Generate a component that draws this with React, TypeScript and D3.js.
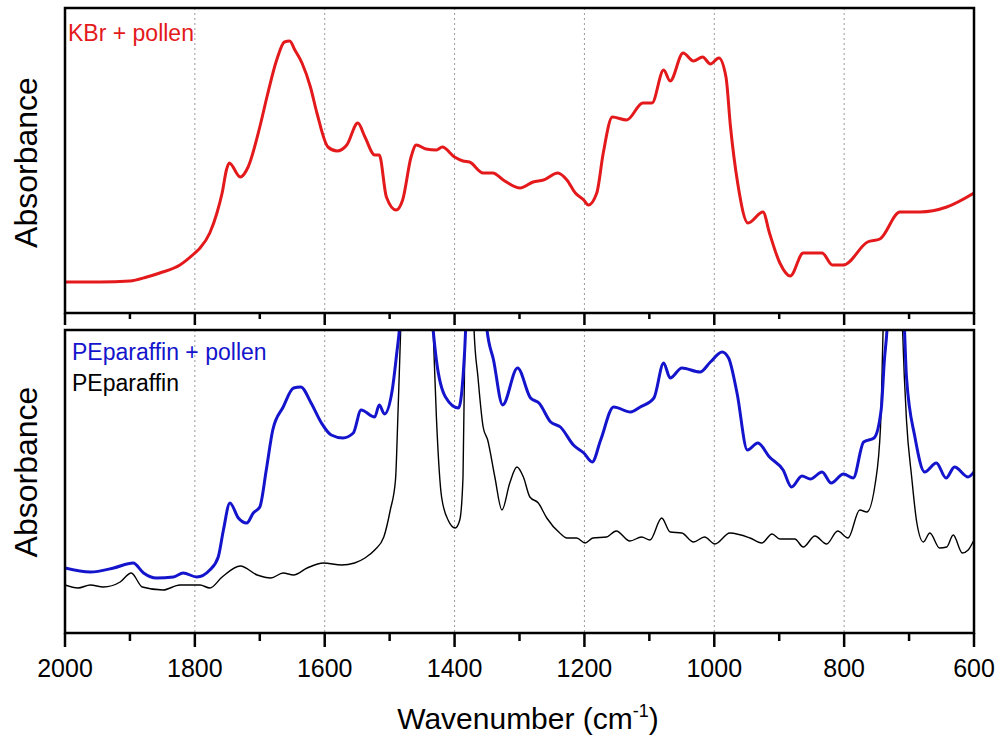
import React from "react";
import * as d3 from "d3";

// ---- data (wavenumber cm-1, absorbance a.u.) ----
const kbrPollen: [number, number][] = [
  [2000, 0.31], [1946, 0.31], [1900, 0.32], [1874, 0.36], [1854, 0.40], [1823, 0.48],
  [1800, 0.60], [1792, 0.65], [1777, 0.80], [1766, 1.00], [1758, 1.20], [1751, 1.44],
  [1747, 1.50], [1730, 1.36], [1718, 1.46], [1700, 1.86], [1689, 2.16],
  [1674, 2.53], [1662, 2.71], [1654, 2.72], [1646, 2.63], [1635, 2.50], [1622, 2.26],
  [1612, 2.00], [1595, 1.66], [1581, 1.62], [1566, 1.68], [1549, 1.90], [1538, 1.76],
  [1523, 1.58], [1516, 1.58], [1505, 1.16], [1490, 1.03], [1480, 1.13], [1467, 1.56],
  [1459, 1.68], [1444, 1.64], [1428, 1.63], [1419, 1.66], [1400, 1.56], [1387, 1.52],
  [1377, 1.51], [1356, 1.40], [1341, 1.40], [1325, 1.33], [1299, 1.25], [1279, 1.31],
  [1263, 1.33], [1241, 1.40], [1227, 1.33], [1214, 1.20], [1201, 1.13], [1194, 1.08],
  [1181, 1.20], [1171, 1.60], [1157, 1.96], [1135, 1.93], [1110, 2.10], [1096, 2.10],
  [1078, 2.43], [1068, 2.32], [1048, 2.60], [1032, 2.52], [1018, 2.56], [1006, 2.49],
  [993, 2.55], [982, 2.36], [975, 1.86], [964, 1.30], [948, 0.90], [925, 1.01],
  [915, 0.80], [899, 0.50], [883, 0.37], [863, 0.60], [834, 0.60], [818, 0.48],
  [801, 0.48], [764, 0.71], [745, 0.74], [714, 1.01], [683, 1.01], [642, 1.06], [600, 1.20],
];

const peParaffinPollen: [number, number][] = [
  [2000, 0.65], [1961, 0.61], [1925, 0.65], [1895, 0.70], [1879, 0.60], [1859, 0.55],
  [1833, 0.56], [1818, 0.60], [1797, 0.56], [1777, 0.63], [1764, 0.76], [1756, 1.03],
  [1746, 1.30], [1733, 1.15], [1720, 1.10], [1710, 1.20], [1700, 1.26], [1690, 1.63],
  [1680, 2.03], [1664, 2.26], [1648, 2.45], [1637, 2.46], [1621, 2.30], [1605, 2.10],
  [1590, 1.98], [1572, 1.95], [1556, 2.00], [1544, 2.23], [1523, 2.16], [1516, 2.28],
  [1508, 2.19], [1496, 2.43], [1489, 2.80], [1485, 3.03], [1462, 6.0], [1433, 3.03],
  [1428, 2.73], [1414, 2.36], [1394, 2.25], [1387, 2.56], [1383, 3.03], [1374, 6.0],
  [1350, 3.03], [1340, 2.73], [1326, 2.28], [1303, 2.65], [1283, 2.35], [1270, 2.30],
  [1252, 2.11], [1237, 2.06], [1217, 1.88], [1201, 1.80], [1188, 1.71], [1175, 1.93],
  [1155, 2.26], [1129, 2.21], [1114, 2.26], [1093, 2.35], [1078, 2.70], [1068, 2.55],
  [1050, 2.65], [1022, 2.61], [1006, 2.71], [988, 2.81], [978, 2.75], [965, 2.40],
  [949, 1.83], [933, 1.90], [915, 1.76], [894, 1.63], [881, 1.46], [865, 1.57],
  [852, 1.54], [834, 1.61], [820, 1.50], [801, 1.59], [786, 1.55], [770, 1.91],
  [754, 1.95], [743, 2.23], [738, 2.73], [734, 3.03], [720, 6.0], [707, 3.03],
  [704, 2.56], [691, 1.96], [676, 1.61], [658, 1.70], [643, 1.55], [630, 1.66],
  [609, 1.56], [600, 1.61],
];

const peParaffin: [number, number][] = [
  [2000, 0.48], [1980, 0.45], [1961, 0.48], [1941, 0.46], [1915, 0.51], [1898, 0.60],
  [1881, 0.46], [1849, 0.43], [1823, 0.48], [1792, 0.48], [1777, 0.45], [1758, 0.56],
  [1730, 0.67], [1704, 0.58], [1683, 0.55], [1664, 0.60], [1648, 0.58], [1627, 0.65],
  [1602, 0.70], [1574, 0.68], [1554, 0.70], [1538, 0.75], [1523, 0.83], [1509, 0.96],
  [1499, 1.23], [1491, 1.53], [1487, 2.23], [1483, 3.03], [1462, 7.0], [1433, 3.03],
  [1428, 2.16], [1420, 1.36], [1410, 1.13], [1399, 1.05], [1392, 1.13], [1387, 1.56],
  [1384, 3.03], [1377, 7.0], [1370, 3.03], [1364, 2.56], [1356, 2.06], [1349, 1.93],
  [1338, 1.56], [1327, 1.23], [1315, 1.50], [1304, 1.66], [1294, 1.56], [1284, 1.36],
  [1271, 1.30], [1258, 1.15], [1238, 1.00], [1227, 0.95], [1212, 0.95], [1199, 0.90],
  [1187, 0.95], [1166, 0.96], [1151, 1.02], [1130, 0.92], [1112, 0.96], [1099, 0.93],
  [1081, 1.15], [1068, 1.01], [1050, 1.00], [1032, 0.91], [1015, 0.96], [999, 0.89],
  [976, 1.00], [945, 0.95], [927, 0.90], [911, 0.99], [899, 0.94], [876, 0.94],
  [863, 0.86], [845, 0.97], [827, 0.89], [810, 1.02], [794, 0.95], [776, 1.23],
  [765, 1.21], [752, 1.50], [744, 2.06], [740, 3.03], [722, 7.0], [710, 3.03],
  [704, 2.13], [696, 1.56], [688, 1.10], [678, 0.91], [668, 1.00], [653, 0.85],
  [642, 0.86], [632, 0.98], [618, 0.80], [609, 0.83], [600, 0.93],
];

const majorTicks = [2000, 1800, 1600, 1400, 1200, 1000, 800, 600];
const minorTicks = [1900, 1700, 1500, 1300, 1100, 900, 700];
const gridLines = [1800, 1600, 1400, 1200, 1000, 800];
const xDomain: [number, number] = [2000, 600];
const topYDomain: [number, number] = [0, 3.05];
const bottomYDomain: [number, number] = [0, 3.03];

const FONT = "'Liberation Sans', Arial, Helvetica, sans-serif";

export default function App() {
  const left = 65;
  const right = 974;
  const top1 = 8, bot1 = 313;
  const top2 = 330, bot2 = 633;

  const x = d3.scaleLinear().domain(xDomain).range([left, right]);
  const y1 = d3.scaleLinear().domain(topYDomain).range([bot1, top1]);
  const y2 = d3.scaleLinear().domain(bottomYDomain).range([bot2, top2]);

  const line1 = d3.line<[number, number]>().x((d) => x(d[0])).y((d) => y1(d[1])).curve(d3.curveMonotoneX);
  const line2 = d3.line<[number, number]>().x((d) => x(d[0])).y((d) => y2(d[1])).curve(d3.curveMonotoneX);

  const grid = (t: number, b: number, key: string) =>
    gridLines.map((g) => (
      <line key={key + g} x1={x(g)} x2={x(g)} y1={t} y2={b} stroke="#9a9a9a" strokeWidth={1} strokeDasharray="2,3" />
    ));

  const ticks = (yb: number, maj: number, min: number, key: string) => (
    <g key={key}>
      {majorTicks.map((t) => (
        <line key={key + "M" + t} x1={x(t)} x2={x(t)} y1={yb} y2={yb + maj} stroke="#000" strokeWidth={2.5} />
      ))}
      {minorTicks.map((t) => (
        <line key={key + "m" + t} x1={x(t)} x2={x(t)} y1={yb} y2={yb + min} stroke="#000" strokeWidth={2.5} />
      ))}
    </g>
  );

  return (
    <svg width={1000} height={740} style={{ position: "absolute", left: 0, top: 0, background: "#fff" }} fontFamily={FONT}>
      <defs>
        <clipPath id="clipTop">
          <rect x={left} y={top1} width={right - left} height={bot1 - top1} />
        </clipPath>
        <clipPath id="clipBot">
          <rect x={left} y={top2} width={right - left} height={bot2 - top2} />
        </clipPath>
      </defs>
      <rect x={0} y={0} width={1000} height={740} fill="#fff" />

      {/* top panel */}
      {grid(top1, bot1, "g1")}
      <path d={line1(kbrPollen) || ""} fill="none" stroke="#e3191b" strokeWidth={3} clipPath="url(#clipTop)" strokeLinejoin="round" />
      <rect x={left} y={top1} width={right - left} height={bot1 - top1} fill="none" stroke="#000" strokeWidth={2.5} />
      {ticks(bot1, 12, 6, "t1")}
      <text x={68} y={41} fontSize={23} fill="#e3191b">KBr + pollen</text>
      <text transform={`translate(37,${(top1 + bot1) / 2 + 2}) rotate(-90)`} textAnchor="middle" fontSize={32} fill="#000">Absorbance</text>

      {/* bottom panel */}
      {grid(top2, bot2, "g2")}
      <path d={line2(peParaffin) || ""} fill="none" stroke="#000" strokeWidth={1.4} clipPath="url(#clipBot)" strokeLinejoin="round" />
      <path d={line2(peParaffinPollen) || ""} fill="none" stroke="#1414cc" strokeWidth={3} clipPath="url(#clipBot)" strokeLinejoin="round" />
      <rect x={left} y={top2} width={right - left} height={bot2 - top2} fill="none" stroke="#000" strokeWidth={2.5} />
      {ticks(bot2, 14, 8, "t2")}
      <text x={72} y={360} fontSize={23} fill="#1414cc">PEparaffin + pollen</text>
      <text x={72} y={391} fontSize={23} fill="#000">PEparaffin</text>
      <text transform={`translate(37,472) rotate(-90)`} textAnchor="middle" fontSize={32} fill="#000">Absorbance</text>

      {/* x tick labels */}
      {majorTicks.map((t) => (
        <text key={"l" + t} x={x(t)} y={677} textAnchor="middle" fontSize={25} fill="#000">{t}</text>
      ))}
      <text x={528} y={729} textAnchor="middle" fontSize={30} fill="#000">
        Wavenumber (cm<tspan fontSize={18} dy={-12}>-1</tspan><tspan dy={12}>)</tspan>
      </text>
    </svg>
  );
}
